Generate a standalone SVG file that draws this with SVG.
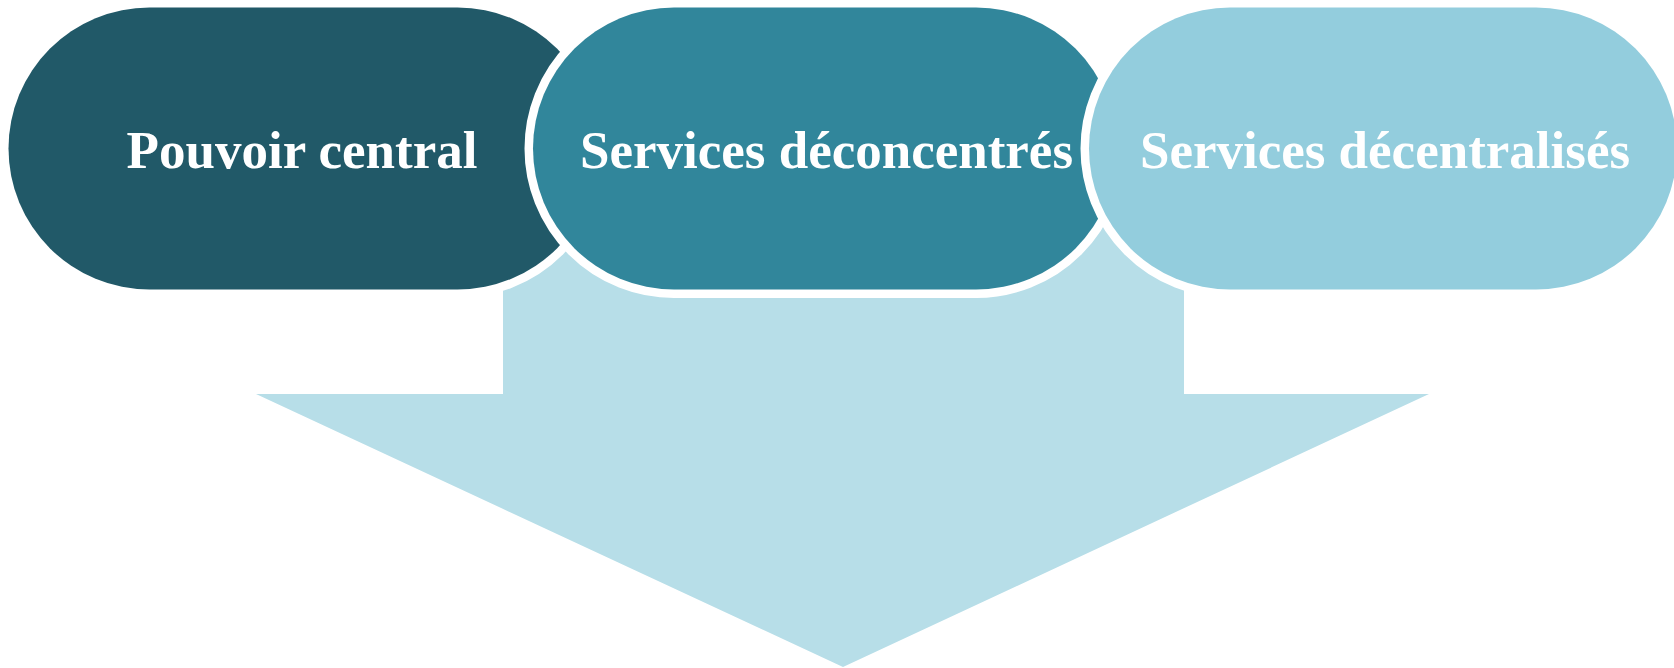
<svg xmlns="http://www.w3.org/2000/svg" width="1674" height="668" viewBox="0 0 1674 668">
<style>
.pill{stroke:#FFFFFF;stroke-width:17;paint-order:stroke}
.lbl{font-family:"Liberation Serif","Times New Roman",serif;font-weight:bold;font-size:53px;fill:#FFFFFF;text-anchor:middle}
</style>
<rect width="1674" height="668" fill="#FFFFFF"/>
<g id="connectors">
<polygon id="arrow" points="503,140 1184,140 1184,394 1429,394 843,667 256,394 503,394" fill="#B7DEE8"/>
</g>
<g id="node-pouvoir-central">
<rect class="pill" x="8.5" y="7.5" width="590" height="282" rx="141" ry="141" fill="#215968"/>
<text class="lbl" x="302" y="168">Pouvoir central</text>
</g>
<g id="node-services-deconcentres">
<rect class="pill" x="533" y="7.5" width="584" height="282" rx="141" ry="141" fill="#31869B"/>
<text class="lbl" x="826.5" y="168">Services déconcentrés</text>
</g>
<g id="node-services-decentralises">
<rect class="pill" x="1089" y="7.5" width="588" height="282" rx="141" ry="141" fill="#93CDDD"/>
<text class="lbl" x="1385" y="168">Services décentralisés</text>
</g>
</svg>
